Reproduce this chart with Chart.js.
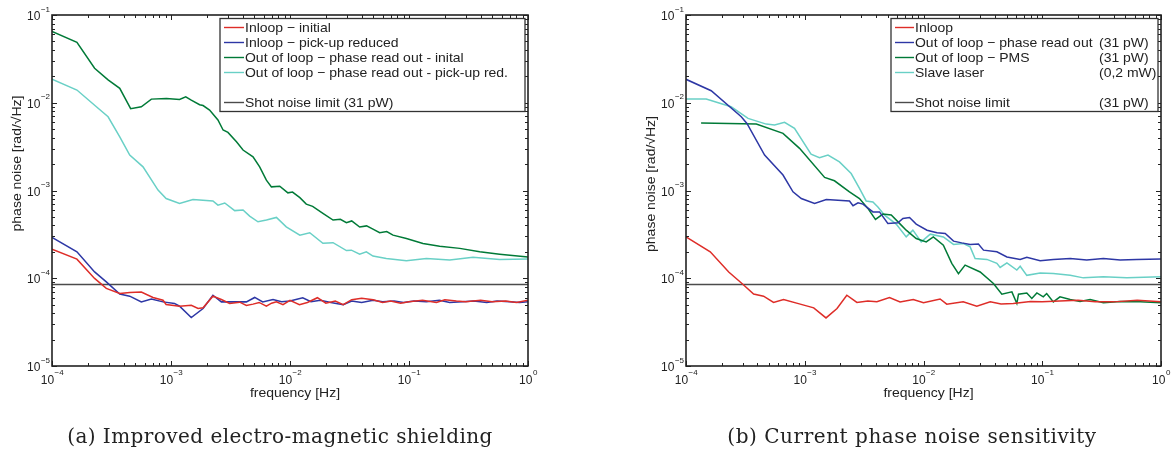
<!DOCTYPE html>
<html>
<head>
<meta charset="utf-8">
<script src="https://cdn.jsdelivr.net/npm/chart.js@4.4.1/dist/chart.umd.min.js"></script>
<style>
  body { margin: 0; background: #fff; width: 1176px; height: 453px; position: relative; overflow: hidden; }
  canvas { position: absolute; top: 0; }
  #chartA { left: 0; }
  #chartB { left: 588px; }
  .caption { position: absolute; top: 426px; font-family: "DejaVu Serif", serif; font-size: 20px; line-height: 20px; color: #222; white-space: nowrap; transform: translateX(-50%); }
</style>
</head>
<body>
<canvas id="chartA" width="588" height="453"></canvas>
<canvas id="chartB" width="588" height="453"></canvas>
<div class="caption" style="left:280px; letter-spacing:0.45px">(a) Improved electro-magnetic shielding</div>
<div class="caption" style="left:912px; letter-spacing:0.55px">(b) Current phase noise sensitivity</div>
<script>
// ── Data ─────────────────────────────────────────────────

const xTickExp = [-4, -3, -2, -1, 0];
const yTickExp = [-5, -4, -3, -2, -1];
const shotNoise = 8.5e-5;

// (a) Improved electro-magnetic shielding
const aInitialFreq = [1e-4, 1.62e-4, 2.28e-4, 2.86e-4, 3.71e-4, 4.5e-4, 5.63e-4, 7.06e-4, 8.57e-4, 9.1e-4, 1.18e-3, 1.48e-3, 1.69e-3, 1.86e-3, 2.25e-3, 2.65e-3, 3.11e-3, 3.78e-3, 4.3e-3, 4.89e-3, 5.5e-3, 6.33e-3, 7.0e-3, 7.69e-3, 8.73e-3, 0.01, 0.012, 0.014, 0.017, 0.02, 0.024, 0.028, 0.033, 0.04, 0.05, 0.06, 0.07, 0.085, 0.1, 0.13, 0.17, 0.2, 0.25, 0.3, 0.4, 0.5, 0.65, 0.8, 1];
const aInitialVal = [2.15e-4, 1.65e-4, 9.95e-5, 7.66e-5, 6.7e-5, 6.9e-5, 6.95e-5, 6.04e-5, 5.62e-5, 5.02e-5, 4.8e-5, 4.93e-5, 4.52e-5, 4.6e-5, 6.25e-5, 5.73e-5, 5.16e-5, 5.34e-5, 4.9e-5, 5.07e-5, 5.3e-5, 4.8e-5, 5.2e-5, 5.4e-5, 5.0e-5, 5.6e-5, 5.0e-5, 5.3e-5, 6.0e-5, 5.2e-5, 5.5e-5, 5.0e-5, 5.7e-5, 5.9e-5, 5.7e-5, 5.3e-5, 5.5e-5, 5.2e-5, 5.4e-5, 5.6e-5, 5.3e-5, 5.7e-5, 5.5e-5, 5.4e-5, 5.6e-5, 5.4e-5, 5.5e-5, 5.3e-5, 5.6e-5];

const aReducedFreq = [1e-4, 1.62e-4, 2.28e-4, 2.86e-4, 3.71e-4, 4.5e-4, 5.63e-4, 6.84e-4, 8.57e-4, 1.07e-3, 1.18e-3, 1.48e-3, 1.86e-3, 2.25e-3, 2.65e-3, 3.32e-3, 4.3e-3, 5.05e-3, 5.9e-3, 7.2e-3, 8.5e-3, 0.01, 0.0128, 0.015, 0.018, 0.022, 0.028, 0.033, 0.04, 0.05, 0.06, 0.075, 0.09, 0.11, 0.14, 0.18, 0.22, 0.28, 0.35, 0.45, 0.55, 0.7, 0.85, 1];
const aReducedVal = [2.92e-4, 2.0e-4, 1.18e-4, 9.1e-5, 6.6e-5, 6.25e-5, 5.38e-5, 5.78e-5, 5.38e-5, 5.16e-5, 4.8e-5, 3.57e-5, 4.52e-5, 6.4e-5, 5.38e-5, 5.4e-5, 5.38e-5, 6.04e-5, 5.38e-5, 5.73e-5, 5.4e-5, 5.5e-5, 6.0e-5, 5.4e-5, 5.6e-5, 5.3e-5, 5.0e-5, 5.5e-5, 5.3e-5, 5.6e-5, 5.4e-5, 5.5e-5, 5.3e-5, 5.5e-5, 5.4e-5, 5.6e-5, 5.3e-5, 5.4e-5, 5.5e-5, 5.3e-5, 5.5e-5, 5.4e-5, 5.3e-5, 5.4e-5];

const aOutInitFreq = [1e-4, 1.62e-4, 2.28e-4, 2.96e-4, 3.71e-4, 4.58e-4, 5.63e-4, 6.84e-4, 9.14e-4, 1.18e-3, 1.33e-3, 1.48e-3, 1.74e-3, 1.86e-3, 2.11e-3, 2.48e-3, 2.74e-3, 3.01e-3, 3.55e-3, 4.03e-3, 4.89e-3, 5.56e-3, 6.33e-3, 6.98e-3, 8.2e-3, 9.6e-3, 0.0105, 0.0121, 0.0137, 0.0155, 0.0189, 0.023, 0.0265, 0.0298, 0.033, 0.0385, 0.044, 0.0498, 0.0567, 0.065, 0.0734, 0.0951, 0.131, 0.181, 0.267, 0.393, 0.578, 1];
const aOutInitVal = [0.065, 0.0489, 0.0247, 0.0182, 0.0146, 0.00855, 0.009, 0.011, 0.0112, 0.0109, 0.0117, 0.0107, 0.0095, 0.0093, 0.00826, 0.00636, 0.00489, 0.00459, 0.00359, 0.00289, 0.00242, 0.00186, 0.00131, 0.0011, 0.00112, 9.4e-4, 9.6e-4, 8.3e-4, 7.0e-4, 6.6e-4, 5.5e-4, 4.6e-4, 4.7e-4, 4.3e-4, 4.5e-4, 3.83e-4, 3.95e-4, 3.63e-4, 3.31e-4, 3.4e-4, 3.1e-4, 2.84e-4, 2.49e-4, 2.32e-4, 2.19e-4, 2.0e-4, 1.88e-4, 1.75e-4];

const aOutRedFreq = [1e-4, 1.62e-4, 2.36e-4, 2.96e-4, 3.71e-4, 4.5e-4, 5.82e-4, 7.78e-4, 9.1e-4, 1.18e-3, 1.53e-3, 2.25e-3, 2.48e-3, 2.83e-3, 3.43e-3, 4.03e-3, 4.58e-3, 5.38e-3, 6.34e-3, 7.69e-3, 9.3e-3, 0.0121, 0.01466, 0.0189, 0.023, 0.0298, 0.0328, 0.0385, 0.0438, 0.0498, 0.0645, 0.095, 0.14, 0.22, 0.345, 0.578, 1];
const aOutRedVal = [0.0185, 0.01396, 0.009, 0.00692, 0.00409, 0.00253, 0.00186, 0.00101, 8.1e-4, 7.1e-4, 7.9e-4, 7.6e-4, 6.8e-4, 7.2e-4, 5.9e-4, 6.0e-4, 5.1e-4, 4.4e-4, 4.6e-4, 4.93e-4, 3.85e-4, 3.1e-4, 3.3e-4, 2.5e-4, 2.54e-4, 2.07e-4, 2.09e-4, 1.88e-4, 2.0e-4, 1.79e-4, 1.68e-4, 1.58e-4, 1.68e-4, 1.61e-4, 1.73e-4, 1.64e-4, 1.66e-4];

// (b) Current phase noise sensitivity
const bInloopFreq = [1e-4, 1.6e-4, 2.29e-4, 2.96e-4, 3.71e-4, 4.5e-4, 5.46e-4, 6.63e-4, 9.16e-4, 1.19e-3, 1.51e-3, 1.87e-3, 2.26e-3, 2.75e-3, 3.4e-3, 4.05e-3, 5.17e-3, 6.35e-3, 8.2e-3, 0.01, 0.0138, 0.0157, 0.0216, 0.0281, 0.0365, 0.045, 0.057, 0.0795, 0.1, 0.14, 0.2, 0.28, 0.4, 0.63, 1];
const bInloopVal = [2.97e-4, 2.0e-4, 1.18e-4, 8.7e-5, 6.6e-5, 6.25e-5, 5.3e-5, 5.73e-5, 5.07e-5, 4.6e-5, 3.53e-5, 4.52e-5, 6.4e-5, 5.3e-5, 5.5e-5, 5.4e-5, 6.04e-5, 5.38e-5, 5.73e-5, 5.25e-5, 5.8e-5, 5.07e-5, 5.38e-5, 4.8e-5, 5.38e-5, 5.1e-5, 5.16e-5, 5.45e-5, 5.38e-5, 5.5e-5, 5.62e-5, 5.4e-5, 5.38e-5, 5.62e-5, 5.38e-5];

const bPhaseFreq = [1e-4, 1.63e-4, 2.92e-4, 3.26e-4, 4.59e-4, 6.56e-4, 7.96e-4, 9.35e-4, 1.21e-3, 1.52e-3, 2.38e-3, 2.55e-3, 2.81e-3, 3.09e-3, 3.75e-3, 4.26e-3, 5.01e-3, 6.09e-3, 6.71e-3, 7.63e-3, 8.68e-3, 0.0107, 0.013, 0.01524, 0.0179, 0.021, 0.0247, 0.029, 0.032, 0.0415, 0.0504, 0.0652, 0.0741, 0.096, 0.124, 0.172, 0.237, 0.327, 0.453, 0.625, 1];
const bPhaseVal = [0.0185, 0.0137, 0.00692, 0.0058, 0.00253, 0.0015, 9.66e-4, 8.1e-4, 7.13e-4, 7.9e-4, 7.6e-4, 6.7e-4, 7.24e-4, 7.0e-4, 5.7e-4, 5.7e-4, 4.22e-4, 4.29e-4, 4.81e-4, 4.93e-4, 4.14e-4, 3.53e-4, 3.3e-4, 3.24e-4, 2.65e-4, 2.53e-4, 2.43e-4, 2.45e-4, 2.09e-4, 2.0e-4, 1.75e-4, 1.64e-4, 1.73e-4, 1.58e-4, 1.64e-4, 1.68e-4, 1.61e-4, 1.68e-4, 1.61e-4, 1.64e-4, 1.66e-4];

const bPmsFreq = [1.34e-4, 3.91e-4, 6.56e-4, 9.04e-4, 1.47e-3, 1.78e-3, 2.38e-3, 2.89e-3, 3.4e-3, 3.94e-3, 4.55e-3, 5.35e-3, 6.28e-3, 7.15e-3, 8.68e-3, 0.01054, 0.0121, 0.0147, 0.0173, 0.0197, 0.0224, 0.03, 0.0388, 0.0457, 0.0555, 0.0611, 0.0631, 0.0741, 0.0817, 0.0901, 0.102, 0.109, 0.124, 0.141, 0.172, 0.208, 0.253, 0.327, 0.453, 0.667, 1];
const bPmsVal = [0.00588, 0.00571, 0.00448, 0.00302, 0.00141, 0.00129, 9.66e-4, 8.1e-4, 6.25e-4, 4.69e-4, 5.39e-4, 5.25e-4, 4.22e-4, 3.53e-4, 2.84e-4, 2.6e-4, 2.96e-4, 2.38e-4, 1.48e-4, 1.13e-4, 1.41e-4, 1.18e-4, 8.72e-5, 6.59e-5, 7.0e-5, 5.16e-5, 6.59e-5, 6.8e-5, 5.88e-5, 6.8e-5, 6.14e-5, 6.7e-5, 5.38e-5, 6.14e-5, 5.73e-5, 5.45e-5, 5.73e-5, 5.25e-5, 5.45e-5, 5.38e-5, 5.25e-5];

const bSlaveFreq = [1e-4, 1.48e-4, 2.4e-4, 3.33e-4, 4.74e-4, 5.57e-4, 6.76e-4, 8.2e-4, 1.13e-3, 1.33e-3, 1.57e-3, 1.96e-3, 2.46e-3, 2.89e-3, 3.29e-3, 3.75e-3, 4.13e-3, 4.7e-3, 5.89e-3, 7.15e-3, 8.14e-3, 9.57e-3, 0.0114, 0.0147, 0.0179, 0.0217, 0.0247, 0.0272, 0.0342, 0.0415, 0.0442, 0.0504, 0.0611, 0.0652, 0.0741, 0.096, 0.124, 0.172, 0.222, 0.327, 0.515, 1];
const bSlaveVal = [0.011, 0.011, 0.009, 0.00664, 0.00571, 0.00557, 0.00598, 0.0051, 0.0026, 0.00236, 0.00253, 0.00212, 0.00156, 0.00106, 7.6e-4, 7.4e-4, 6.5e-4, 5.24e-4, 4.14e-4, 2.96e-4, 3.53e-4, 2.6e-4, 3.18e-4, 2.96e-4, 2.43e-4, 2.49e-4, 2.28e-4, 1.68e-4, 1.64e-4, 1.48e-4, 1.33e-4, 1.5e-4, 1.24e-4, 1.37e-4, 1.08e-4, 1.15e-4, 1.13e-4, 1.08e-4, 1.01e-4, 1.04e-4, 1.01e-4, 1.04e-4];

const aLegendLabels = ['Inloop \u2212 initial', 'Inloop \u2212 pick-up reduced', 'Out of loop \u2212 phase read out - inital', 'Out of loop \u2212 phase read out - pick-up red.', '', 'Shot noise limit (31 pW)'];
const bLegendLabels = ['Inloop', 'Out of loop \u2212 phase read out', 'Out of loop \u2212 PMS', 'Slave laser', '', 'Shot noise limit'];
const bLegendPower = ['', '(31 pW)', '(31 pW)', '(0,2 mW)', '', '(31 pW)'];

const RED = 'rgb(222,45,40)';
const BLUE = 'rgb(45,55,165)';
const GREEN = 'rgb(0,122,55)';
const CYAN = 'rgb(105,208,198)';
const SHOT = 'rgb(75,75,75)';
const INK = '#222';

// ── Helpers ──────────────────────────────────────────────

function pts(freq, val) {
  return freq.map((f, i) => ({ x: f, y: val[i] }));
}

function series(freq, val, color, width) {
  return {
    data: pts(freq, val),
    borderColor: color,
    borderWidth: width || 1.5,
    pointRadius: 0,
    fill: false,
    tension: 0
  };
}

function shotSeries() {
  return series([Math.pow(10, xTickExp[0]), Math.pow(10, xTickExp[xTickExp.length - 1])], [shotNoise, shotNoise], SHOT, 1.6);
}

// slightly wider text, like the original export
function wideText(ctx, text, x, y, align) {
  const sx = 1.075;
  const w = ctx.measureText(text).width * sx;
  const start = align === 'center' ? x - w / 2 : x;
  ctx.save();
  ctx.textAlign = 'left';
  ctx.translate(start, y);
  ctx.scale(sx, 1);
  ctx.fillText(text, 0, 0);
  ctx.restore();
}

function drawPow(ctx, exp, x, y, align) {
  const base = '10';
  const sup = exp < 0 ? '\u2212' + Math.abs(exp) : String(exp);
  ctx.font = '12px "Liberation Sans", Arial, sans-serif';
  const w1 = ctx.measureText(base).width;
  ctx.font = '8px "Liberation Sans", Arial, sans-serif';
  const w2 = ctx.measureText(sup).width;
  const start = align === 'center' ? x - (w1 + w2) / 2 : x - (w1 + w2);
  ctx.textAlign = 'left';
  ctx.font = '12px "Liberation Sans", Arial, sans-serif';
  ctx.fillText(base, start, y);
  ctx.font = '8px "Liberation Sans", Arial, sans-serif';
  ctx.fillText(sup, start + w1 + 0.5, y - 8.5);
}

// MATLAB-style frame, inward ticks, labels and legend
const matlabAxes = {
  id: 'matlabAxes',
  afterDatasetsDraw(chart, args, opts) {
    const { ctx, chartArea: a, scales: { x, y } } = chart;
    ctx.save();
    ctx.strokeStyle = INK;
    ctx.fillStyle = INK;
    ctx.lineWidth = 1;

    // ticks
    ctx.beginPath();
    xTickExp.forEach(e => {
      const mults = e < xTickExp[xTickExp.length - 1] ? [1, 2, 3, 4, 5, 6, 7, 8, 9] : [1];
      mults.forEach(m => {
        const px = Math.round(x.getPixelForValue(m * Math.pow(10, e))) + 0.5;
        const len = m === 1 ? 5 : 3;
        ctx.moveTo(px, a.bottom); ctx.lineTo(px, a.bottom - len);
        ctx.moveTo(px, a.top); ctx.lineTo(px, a.top + len);
      });
    });
    yTickExp.forEach(e => {
      const mults = e < yTickExp[yTickExp.length - 1] ? [1, 2, 3, 4, 5, 6, 7, 8, 9] : [1];
      mults.forEach(m => {
        const py = Math.round(y.getPixelForValue(m * Math.pow(10, e))) + 0.5;
        const len = m === 1 ? 5 : 3;
        ctx.moveTo(a.left, py); ctx.lineTo(a.left + len, py);
        ctx.moveTo(a.right, py); ctx.lineTo(a.right - len, py);
      });
    });
    ctx.stroke();

    // frame
    ctx.lineWidth = 1.6;
    ctx.strokeRect(a.left, a.top, a.right - a.left, a.bottom - a.top);

    // tick labels
    xTickExp.forEach(e => {
      drawPow(ctx, e, x.getPixelForValue(Math.pow(10, e)), a.bottom + 17.5, 'center');
    });
    yTickExp.forEach(e => {
      drawPow(ctx, e, a.left - 2.5, y.getPixelForValue(Math.pow(10, e)) + 5, 'right');
    });

    // axis titles
    ctx.font = '13px "Liberation Sans", Arial, sans-serif';
    wideText(ctx, 'frequency [Hz]', (a.left + a.right) / 2 + 5, a.bottom + 30.5, 'center');
    ctx.save();
    ctx.translate(a.left - 31, opts.yTitleY);
    ctx.rotate(-Math.PI / 2);
    wideText(ctx, 'phase noise [rad/\u221AHz]', 0, 0, 'center');
    ctx.restore();

    // legend
    const lg = opts.legend;
    const bx = a.right - 3 - lg.width;
    const by = a.top + 3.5;
    ctx.fillStyle = '#fff';
    ctx.fillRect(bx, by, lg.width, 93);
    ctx.strokeStyle = '#333';
    ctx.lineWidth = 1.3;
    ctx.strokeRect(bx, by, lg.width, 93);
    ctx.font = '13px "Liberation Sans", Arial, sans-serif';
    lg.labels.forEach((label, i) => {
      const ds = lg.rows[i];
      if (ds === null) return;
      const ry = by + 9 + 15 * i;
      ctx.strokeStyle = chart.data.datasets[ds].borderColor;
      ctx.lineWidth = 1.4;
      ctx.beginPath();
      ctx.moveTo(bx + 4, ry);
      ctx.lineTo(bx + lg.sample, ry);
      ctx.stroke();
      ctx.fillStyle = INK;
      wideText(ctx, label, bx + lg.sample + 1, ry + 4.6, 'left');
      if (lg.extra && lg.extra[i]) wideText(ctx, lg.extra[i], bx + lg.extraX, ry + 4.6, 'left');
    });

    ctx.restore();
  }
};

function makeChart(id, datasets, padLeft, padRight, yTitleY, legend) {
  return new Chart(document.getElementById(id), {
    type: 'line',
    data: { datasets: datasets },
    options: {
      responsive: false,
      animation: false,
      layout: { padding: { left: padLeft, right: padRight, top: 15, bottom: 87 } },
      plugins: {
        legend: { display: false },
        tooltip: { enabled: false },
        matlabAxes: { yTitleY: yTitleY, legend: legend }
      },
      scales: {
        x: { type: 'logarithmic', min: 1e-4, max: 1, display: false },
        y: { type: 'logarithmic', min: 1e-5, max: 1e-1, display: false }
      }
    },
    plugins: [matlabAxes]
  });
}

makeChart('chartA', [
  series(aInitialFreq, aInitialVal, RED),
  series(aReducedFreq, aReducedVal, BLUE),
  series(aOutInitFreq, aOutInitVal, GREEN),
  series(aOutRedFreq, aOutRedVal, CYAN),
  shotSeries()
], 52, 60, 163.5, { width: 305, labels: aLegendLabels, rows: [0, 1, 2, 3, null, 4], sample: 24 });

makeChart('chartB', [
  series(bInloopFreq, bInloopVal, RED),
  series(bPhaseFreq, bPhaseVal, BLUE),
  series(bPmsFreq, bPmsVal, GREEN),
  series(bSlaveFreq, bSlaveVal, CYAN),
  shotSeries()
], 98, 15, 184, { width: 267, labels: bLegendLabels, extra: bLegendPower, extraX: 208, rows: [0, 1, 2, 3, null, 4], sample: 23 });
</script>
</body>
</html>
